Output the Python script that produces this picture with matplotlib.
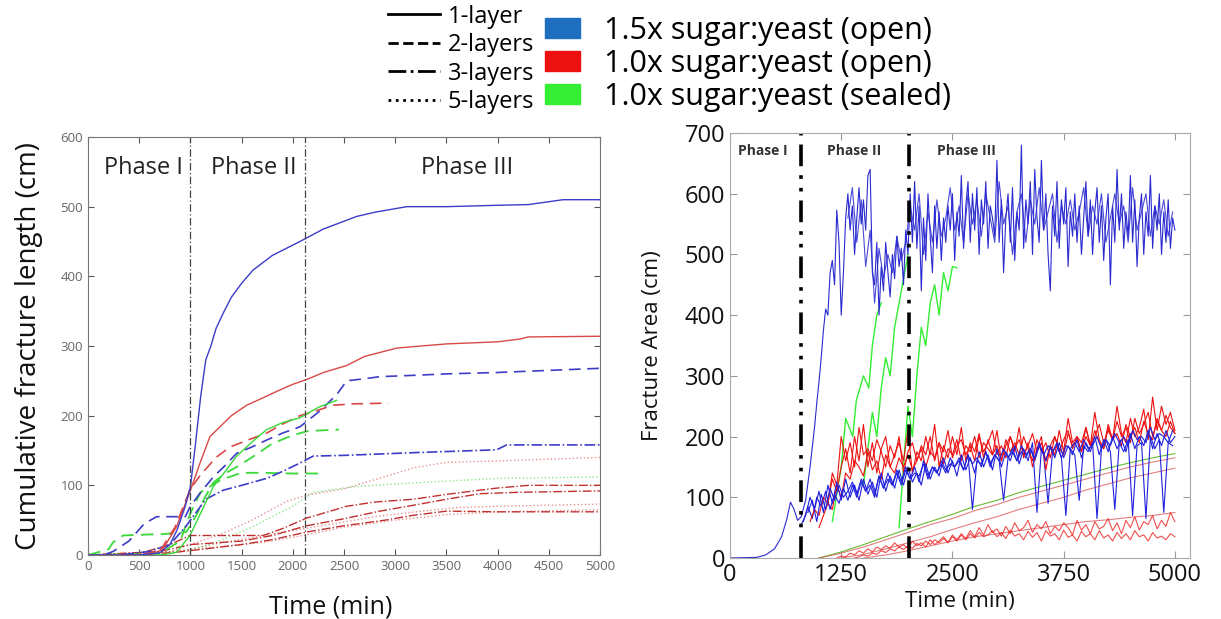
import numpy as np
import matplotlib
matplotlib.use("Agg")
import matplotlib.pyplot as plt
from matplotlib.lines import Line2D
from matplotlib.patches import Patch

plt.rcParams['font.family'] = ['Open Sans', 'DejaVu Sans']

# ---------------- left panel: cumulative fracture length ----------------
blue_1l_x = [0, 500, 700, 800, 870, 950, 1000, 1050, 1100, 1150, 1200, 1250, 1320, 1400, 1500, 1612,
             1800, 2070, 2300, 2624, 2800, 3112, 3500, 4000, 4300, 4640, 5000]
blue_1l_y = [0, 0, 3, 15, 36, 70, 98, 160, 227, 280, 300, 325, 347, 370, 390, 409,
             430, 450, 468, 486, 492, 500, 500, 502, 503, 510, 510]
red_1l_x = [0, 600, 730, 866, 996, 1094, 1191, 1289, 1400, 1550, 1700, 1875, 2000, 2136, 2300, 2526,
            2700, 3015, 3250, 3503, 4000, 4219, 4300, 5000]
red_1l_y = [0, 0, 8, 41, 91, 132, 170, 184, 200, 215, 225, 237, 245, 252, 262, 272,
            285, 297, 300, 303, 306, 310, 313, 314]
blue_2l_x = [0, 150, 244, 400, 550, 670, 950, 1000, 1100, 1224, 1350, 1452, 1600, 1745, 1900, 2070,
             2250, 2428, 2526, 2700, 2851, 3200, 3503, 4000, 4500, 5000]
blue_2l_y = [0, 0, 5, 20, 45, 55, 55, 70, 90, 112, 130, 146, 155, 165, 175, 184,
             205, 230, 250, 253, 256, 258, 260, 262, 265, 268]
blue_3l_x = [0, 300, 600, 800, 950, 1050, 1150, 1320, 1500, 1745, 1900, 2070, 2200, 2500, 2851, 3200,
             3600, 3990, 4088, 4500, 5000]
blue_3l_y = [0, 0, 5, 15, 40, 60, 80, 93, 100, 110, 120, 132, 142, 143, 145, 147,
             149, 151, 158, 158, 158]
red_2l_x = [0, 500, 700, 850, 1000, 1100, 1250, 1387, 1560, 1745, 1900, 2070, 2250, 2393, 2600, 2933]
red_2l_y = [0, 0, 5, 40, 95, 115, 140, 155, 165, 175, 188, 200, 208, 215, 217, 218]
green_1l_x = [0, 700, 800, 866, 996, 1100, 1224, 1350, 1452, 1600, 1745, 1900, 2070, 2250, 2428]
green_1l_y = [0, 0, 2, 4, 28, 60, 98, 122, 142, 162, 180, 190, 197, 212, 222]
green_2a_x = [0, 200, 244, 342, 500, 733, 960, 1050, 1150, 1224, 1350, 1483, 1650, 1800, 2000, 2150, 2450]
green_2a_y = [0, 8, 18, 28, 29, 30, 33, 55, 85, 104, 118, 129, 145, 160, 172, 178, 180]
green_2b_x = [0, 700, 900, 1000, 1100, 1300, 1500, 1700, 2000, 2265]
green_2b_y = [0, 2, 20, 60, 90, 108, 118, 118, 117, 117]
red_3a_x = [0, 500, 800, 996, 1200, 1500, 1712, 1900, 2136, 2300, 2526, 2800, 3177, 3500, 3990, 4300, 5000]
red_3a_y = [0, 2, 15, 28, 28, 28, 28, 38, 53, 60, 70, 76, 80, 87, 96, 100, 100]
red_3b_x = [0, 700, 1000, 1500, 1800, 2136, 2500, 2851, 3200, 3500, 3828, 4200, 5000]
red_3b_y = [0, 5, 15, 20, 28, 42, 52, 63, 72, 80, 88, 90, 92]
red_3c_x = [0, 800, 1100, 1500, 1800, 2136, 2500, 2900, 3177, 3503, 4000, 5000]
red_3c_y = [0, 3, 8, 15, 22, 33, 42, 50, 57, 63, 62, 62]
red_5a_x = [0, 800, 1000, 1300, 1600, 1940, 2136, 2500, 2800, 3177, 3503, 4000, 5000]
red_5a_y = [0, 5, 15, 30, 50, 77, 86, 95, 108, 125, 133, 135, 140]
green_5_x = [0, 900, 1200, 1600, 2000, 2200, 2600, 3000, 3500, 4000, 5000]
green_5_y = [0, 5, 15, 40, 70, 90, 98, 102, 106, 110, 112]
red_5b_x = [0, 900, 1200, 1600, 2000, 2400, 2800, 3200, 3600, 4000, 5000]
red_5b_y = [0, 5, 15, 25, 35, 45, 55, 62, 68, 70, 73]
red_5c_x = [0, 700, 1000, 1300, 1700, 2100, 2500, 3000, 3500, 4000, 5000]
red_5c_y = [0, 3, 8, 12, 18, 28, 40, 50, 58, 62, 65]

left_phase_x = [1000, 2120]
phase_labels = ['Phase I', 'Phase II', 'Phase III']
left_phase_pos = [540, 1620, 3700]

# ---------------- right panel: fracture area ----------------
b_early_t = [0, 300, 400, 500, 580, 640, 680, 720, 760, 800, 850, 900, 950, 975]
b_early_v = [0, 1, 5, 15, 35, 65, 92, 80, 62, 68, 95, 150, 215, 255]
b_top_t = np.arange(1000, 5001, 25)
b_top_v = [290, 330, 375, 410, 400, 470, 490, 450, 573, 520, 400, 470, 560, 600, 540, 580, 500, 560, 610, 550,
           590, 540, 630, 640, 470, 450, 520, 400, 480, 440, 520, 470, 430, 500, 460, 530, 480, 510, 450, 540,
           500, 600, 520, 620, 510, 580, 440, 560, 490, 600, 530, 470, 580, 510, 570, 490, 560, 520, 580, 540,
           600, 490, 570, 530, 630, 510, 580, 620, 520, 600, 540, 610, 500, 590, 550, 620, 510, 580, 560, 530,
           655, 520, 590, 470, 560, 600, 520, 610, 490, 570, 540, 680, 510, 590, 550, 620, 500, 640, 560, 520,
           655, 540, 600, 500, 440, 580, 530, 620, 510, 590, 550, 610, 480, 570, 530, 600, 520, 580, 500, 560,
           620, 530, 590, 500, 570, 610, 520, 580, 490, 560, 600, 450, 580, 520, 640, 540, 600, 510, 570, 530,
           630, 520, 590, 480, 560, 600, 500, 570, 530, 630, 510, 580, 540, 600, 500, 570, 520, 590, 510, 560,
           540]
b_top2_t = np.arange(1325, 4976, 50)
b_top2_v = [560, 610, 520, 590, 480, 540, 420, 510, 460, 500,
            470, 530, 490, 520, 580, 540, 600, 500, 570, 520,
            590, 530, 560, 610, 540, 580, 520, 600, 550, 590,
            530, 600, 560, 520, 620, 550, 580, 500, 570, 600,
            520, 590, 550, 610, 540, 570, 600, 520, 580, 550,
            590, 540, 570, 610, 530, 580, 550, 600, 520, 560,
            600, 550, 580, 520, 610, 540, 570, 600, 530, 580,
            550, 590, 530, 570]
b_mid_t = np.arange(800, 5001, 50)
b_mid_v = [55, 70, 100, 80, 110, 75, 120, 90, 125, 95,
           130, 100, 120, 95, 130, 105, 125, 100, 140, 110,
           135, 115, 145, 120, 150, 125, 140, 120, 155, 130,
           150, 135, 165, 140, 160, 135, 170, 145, 165, 140,
           175, 150, 170, 145, 180, 150, 175, 160, 185, 155,
           180, 160, 190, 75, 180, 160, 185, 165, 190, 165,
           185, 170, 195, 165, 190, 175, 200, 170, 195, 175,
           200, 180, 195, 175, 205, 180, 200, 185, 210, 180,
           205, 185, 210, 190, 200]
b_mid2_t = np.arange(825, 4976, 50)
b_mid2_v = [60, 85, 65, 100, 85, 110, 80, 105, 90, 115,
            95, 120, 100, 125, 110, 130, 105, 135, 115, 140,
            120, 145, 125, 150, 130, 140, 135, 155, 130, 150,
            140, 160, 145, 155, 150, 165, 145, 170, 80, 160,
            155, 175, 150, 170, 160, 95, 165, 180, 160, 175,
            165, 180, 160, 185, 170, 90, 175, 185, 165, 70,
            180, 170, 95, 185, 175, 190, 65, 180, 195, 175,
            80, 190, 175, 195, 70, 185, 190, 65, 200, 180,
            195, 75, 190, 185]
b_mid3_t = np.arange(875, 4976, 50)
b_mid3_v = [75, 95, 60, 105, 80, 115, 95, 120, 100, 110,
            125, 105, 130, 110, 120, 100, 135, 115, 130, 120,
            140, 120, 145, 130, 150, 125, 160, 135, 150, 140,
            155, 140, 165, 150, 160, 145, 170, 155, 165, 150,
            175, 155, 170, 160, 180, 165, 175, 160, 185, 170,
            180, 165, 190, 170, 185, 175, 190, 165, 185, 180,
            190, 175, 195, 180, 185, 200, 180, 195, 185, 205,
            190, 200, 185, 210, 195, 200, 190, 215, 195, 205,
            200, 190, 210]
r_up_t = np.arange(900, 5001, 50)
r_up_v = [60, 80, 70, 100, 90, 130, 110, 150, 180, 140,
          200, 160, 220, 150, 190, 140, 180, 200, 150, 170,
          190, 160, 210, 140, 175, 160, 200, 170, 220, 150,
          185, 165, 200, 170, 215, 160, 190, 175, 205, 165,
          195, 170, 210, 160, 185, 200, 175, 215, 165, 190,
          150, 180, 200, 145, 185, 170, 210, 175, 230, 190,
          200, 175, 215, 185, 240, 195, 180, 220, 195, 250,
          205, 190, 230, 200, 215, 245, 195, 265, 210, 250,
          220, 240, 210]
r_up2_t = np.arange(1000, 5001, 50)
r_up2_v = [50, 70, 90, 80, 120, 100, 140, 130, 160, 150,
           135, 175, 145, 160, 130, 170, 150, 140, 165, 150,
           170, 145, 160, 180, 150, 175, 165, 190, 155, 180,
           170, 195, 160, 185, 175, 200, 165, 190, 180, 170,
           185, 160, 195, 175, 190, 170, 200, 180, 160, 195,
           175, 190, 165, 200, 180, 170, 205, 185, 195, 175,
           200, 185, 210, 190, 180, 215, 195, 205, 185, 220,
           200, 215, 190, 225, 205, 195, 230, 210, 200, 225,
           205]
r_up3_t = np.arange(1100, 5001, 50)
r_up3_v = [90, 140, 120, 200, 160, 190, 150, 215, 170, 180,
           160, 195, 175, 150, 185, 165, 200, 140, 175, 190,
           160, 185, 170, 200, 160, 190, 175, 210, 165, 185,
           195, 170, 185, 160, 200, 175, 190, 210, 170, 185,
           165, 200, 180, 195, 170, 185, 205, 175, 190, 160,
           185, 200, 175, 195, 210, 180, 200, 190, 215, 185,
           200, 220, 190, 210, 195, 225, 200, 215, 190, 230,
           205, 220, 240, 200, 225, 210, 235, 215, 205]
r_low_t = np.arange(1200, 5001, 50)
r_low_v = [0, 3, 2, 8, 5, 12, 8, 15, 10, 18,
           14, 20, 16, 25, 18, 22, 15, 28, 20, 25,
           18, 30, 22, 28, 35, 25, 38, 30, 40, 32,
           45, 35, 50, 38, 55, 42, 48, 36, 52, 40,
           58, 45, 50, 62, 42, 55, 48, 60, 40, 52,
           45, 58, 50, 38, 62, 46, 55, 40, 60, 48,
           52, 65, 45, 58, 40, 62, 50, 68, 46, 60,
           55, 70, 48, 62, 52, 75, 60]
r_low2_t = np.arange(1400, 5001, 50)
r_low2_v = [0, 2, 5, 3, 8, 6, 12, 9, 15, 12,
            18, 14, 20, 16, 24, 20, 28, 22, 30, 25,
            32, 26, 35, 28, 38, 30, 40, 33, 42, 35,
            38, 45, 35, 42, 32, 46, 36, 40, 30, 44,
            34, 42, 28, 45, 36, 40, 30, 46, 34, 38,
            28, 44, 35, 40, 30, 45, 33, 38, 28, 42,
            32, 40, 30, 45, 35, 38, 28, 42, 33, 36,
            30, 40, 35]
r_lin1_t = np.arange(1000, 5001, 250)
r_lin1_v = [0, 8, 18, 30, 42, 55, 65, 78, 88, 100, 110, 120, 130, 140, 150, 158, 165]
r_lin2_t = np.arange(1250, 5001, 250)
r_lin2_v = [0, 6, 15, 25, 35, 47, 58, 68, 80, 90, 100, 112, 122, 132, 140, 148]
r_lin3_t = np.arange(1500, 5001, 250)
r_lin3_v = [0, 5, 12, 20, 28, 35, 40, 45, 50, 55, 60, 63, 67, 70, 75]
g_lin_t = np.arange(1000, 5001, 250)
g_lin_v = [0, 10, 22, 35, 48, 60, 72, 85, 95, 108, 118, 128, 138, 148, 157, 165, 172]
g1_t = [1150, 1250, 1300, 1380, 1420, 1500, 1560, 1600, 1650, 1700]
g1_v = [60, 150, 230, 200, 260, 300, 280, 350, 400, 420]
g2_t = [1500, 1550, 1600, 1650, 1700, 1750, 1800, 1850, 1900, 1950, 2000]
g2_v = [120, 180, 240, 200, 280, 330, 300, 380, 420, 460, 500]
g3_t = [1900, 1950, 2000, 2050, 2100, 2150, 2200, 2250, 2300, 2350, 2400, 2450, 2500, 2550]
g3_v = [50, 150, 250, 200, 300, 380, 350, 420, 450, 400, 470, 440, 480, 478]

right_phase_x = [800, 2010]
right_phase_pos = [370, 1390, 2660]

C_BLUE, C_RED, C_GREEN = '#1f6fc0', '#ee1111', '#33ee33'
L_BLUE, L_RED, L_GREEN = '#3c3cc8', '#d84848', '#3ad83a'

fig = plt.figure(figsize=(12.21, 6.19), dpi=100)

# ---- left axes
ax1 = fig.add_axes([88 / 1221, 1 - 555 / 619, 512 / 1221, 418 / 619])
lw = 1.0
ax1.plot(red_5c_x, red_5c_y, ':', color=L_RED, lw=lw, alpha=0.6)
ax1.plot(red_5b_x, red_5b_y, ':', color=L_RED, lw=lw, alpha=0.6)
ax1.plot(green_5_x, green_5_y, ':', color=L_GREEN, lw=lw, alpha=0.6)
ax1.plot(red_5a_x, red_5a_y, ':', color=L_RED, lw=lw, alpha=0.6)
ax1.plot(red_3c_x, red_3c_y, '-.', color='#c03030', lw=lw)
ax1.plot(red_3b_x, red_3b_y, '-.', color='#c03030', lw=lw)
ax1.plot(red_3a_x, red_3a_y, '-.', color='#c03030', lw=lw)
ax1.plot(green_2b_x, green_2b_y, '--', color=L_GREEN, lw=1.3, dashes=(7, 4))
ax1.plot(green_2a_x, green_2a_y, '--', color=L_GREEN, lw=1.3, dashes=(7, 4))
ax1.plot(blue_3l_x, blue_3l_y, '-.', color=L_BLUE, lw=1.2)
ax1.plot(red_2l_x, red_2l_y, '--', color=L_RED, lw=1.2, dashes=(7, 4))
ax1.plot(blue_2l_x, blue_2l_y, '--', color=L_BLUE, lw=1.2, dashes=(7, 4))
ax1.plot(green_1l_x, green_1l_y, '-', color=L_GREEN, lw=lw)
ax1.plot(red_1l_x, red_1l_y, '-', color=L_RED, lw=lw)
ax1.plot(blue_1l_x, blue_1l_y, '-', color=L_BLUE, lw=lw)
for xp in left_phase_x:
    ax1.axvline(xp, color='#444444', lw=0.9, dashes=(6, 2, 1, 2))
for lab, xp in zip(phase_labels, left_phase_pos):
    ax1.text(xp, 555, lab, ha='center', va='center', fontsize=17, color='#222222')
ax1.set_xlim(0, 5000)
ax1.set_ylim(0, 600)
ax1.set_xticks(np.arange(0, 5001, 500))
ax1.set_yticks(np.arange(0, 601, 100))
ax1.tick_params(direction='in', top=True, right=True, labelsize=9.5, colors='#555555',
                labelcolor='#666666', length=4)
for s in ax1.spines.values():
    s.set_color('#777777')
ax1.set_ylabel('Cumulative fracture length (cm)', fontsize=20, color='#111111')
ax1.yaxis.set_label_coords(-0.088, 0.5)
fig.text(331 / 1221, 1 - 607 / 619, 'Time (min)', ha='center', va='center', fontsize=18, color='#111111')

# ---- right axes
ax2 = fig.add_axes([730 / 1221, 1 - 558 / 619, 460 / 1221, 425 / 619])
tw = 0.8
ax2.plot(r_lin3_t, r_lin3_v, color=L_RED, lw=tw, alpha=0.7)
ax2.plot(r_lin2_t, r_lin2_v, color=L_RED, lw=tw, alpha=0.7)
ax2.plot(g_lin_t, g_lin_v, color='#66bb33', lw=tw)
ax2.plot(r_lin1_t, r_lin1_v, color=L_RED, lw=tw, alpha=0.7)
ax2.plot(r_low2_t, r_low2_v, color='#ee2222', lw=tw, alpha=0.8)
ax2.plot(r_low_t, r_low_v, color='#ee2222', lw=tw, alpha=0.8)
ax2.plot(g1_t, g1_v, color=C_GREEN, lw=1.0)
ax2.plot(g2_t, g2_v, color=C_GREEN, lw=1.0)
ax2.plot(g3_t, g3_v, color=C_GREEN, lw=1.0)
ax2.plot(r_up3_t, r_up3_v, color='#ee1111', lw=tw)
ax2.plot(r_up2_t, r_up2_v, color='#ee1111', lw=tw)
ax2.plot(b_mid2_t, b_mid2_v, color='#2020dd', lw=tw)
ax2.plot(r_up_t, r_up_v, color='#ee1111', lw=tw)
ax2.plot(b_mid3_t, b_mid3_v, color='#2020dd', lw=tw)
ax2.plot(b_mid_t, b_mid_v, color='#2020dd', lw=tw)
ax2.plot(b_top2_t, b_top2_v, color='#4a4ad8', lw=tw)
ax2.plot(np.concatenate([b_early_t, b_top_t]), np.concatenate([b_early_v, b_top_v]),
         color='#2a2ad0', lw=tw)
for xp in right_phase_x:
    ax2.axvline(xp, color='black', lw=2.6, dashes=(6, 2.5, 1, 2.5, 1, 2.5))
for lab, xp in zip(phase_labels, right_phase_pos):
    ax2.text(xp, 670, lab, ha='center', va='center', fontsize=10, fontweight='bold', color='#333333')
ax2.set_xlim(0, 5170)
ax2.set_ylim(0, 700)
ax2.set_xticks([0, 1250, 2500, 3750, 5000])
ax2.set_yticks(np.arange(0, 701, 100))
ax2.tick_params(direction='in', top=True, right=True, labelsize=17, colors='#999999',
                labelcolor='#111111', length=5)
for s in ax2.spines.values():
    s.set_color('#aaaaaa')
ax2.set_ylabel('Fracture Area (cm)', fontsize=16, color='#111111')
ax2.yaxis.set_label_coords(-0.145, 0.5)
ax2.set_xlabel('Time (min)', fontsize=16, color='#111111', labelpad=3)

# ---- legends
style_handles = [Line2D([], [], color='black', lw=2, ls='-'),
                 Line2D([], [], color='black', lw=2, ls='--'),
                 Line2D([], [], color='black', lw=2, ls='-.'),
                 Line2D([], [], color='black', lw=2, ls=':')]
style_labels = ['1-layer', '2-layers', '3-layers', '5-layers']
fig.legend(style_handles, style_labels, loc='upper left', bbox_to_anchor=(383 / 1221, 1.0),
           frameon=False, fontsize=17, handlelength=2.2, handletextpad=0.34, labelspacing=0.19,
           borderpad=0.2, borderaxespad=0)
color_handles = [Patch(color=C_BLUE), Patch(color=C_RED), Patch(color=C_GREEN)]
color_labels = ['1.5x sugar:yeast (open)', '1.0x sugar:yeast (open)', '1.0x sugar:yeast (sealed)']
fig.legend(color_handles, color_labels, loc='upper left', bbox_to_anchor=(539 / 1221, 0.9845),
           frameon=False, fontsize=22, handlelength=1.14, handleheight=0.65, handletextpad=0.78,
           labelspacing=0.095, borderpad=0.2, borderaxespad=0)

fig.savefig('out.png', dpi=100)
